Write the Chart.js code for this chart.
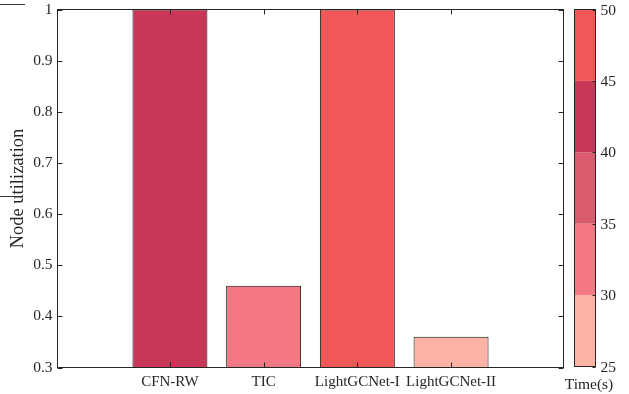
<!DOCTYPE html>
<html>
<head>
<meta charset="utf-8">
<script src="https://cdn.jsdelivr.net/npm/chart.js@4/dist/chart.umd.min.js"></script>
<style>
  html, body { margin: 0; padding: 0; background: #ffffff; }
  #wrap { width: 629px; height: 394px; position: relative; }
</style>
</head>
<body>
<div id="wrap"><canvas id="c" width="629" height="394"></canvas></div>
<script>
// Node utilization of each method, coloured by its run time (s)
const categories = ['CFN-RW', 'TIC', 'LightGCNet-I', 'LightGCNet-II'];
const nodeUtilization = [1.0, 0.46, 1.0, 0.36];
const timeSeconds = [42, 33, 47, 28];

// y-axis ticks
const yTicks = [0.3, 0.4, 0.5, 0.6, 0.7, 0.8, 0.9, 1];

// discrete colour map for the time colourbar
const colorbarTicks = [25, 30, 35, 40, 45, 50];
const colorbarColors = ['#FDB2A6', '#F47884', '#D95B6D', '#C83757', '#F05757'];

const FONT = '"Liberation Serif", "Times New Roman", serif';
const INK = '#262626';

function timeColor(t) {
  for (let i = 0; i < colorbarColors.length; i++) {
    if (t >= colorbarTicks[i] && t < colorbarTicks[i + 1]) return colorbarColors[i];
  }
  return t < colorbarTicks[0] ? colorbarColors[0] : colorbarColors[colorbarColors.length - 1];
}

const points = categories.map((c, i) => ({ x: i + 1, y: nodeUtilization[i] }));
const barColors = timeSeconds.map(timeColor);

// box, inward ticks, colourbar and stray marks
const framePlugin = {
  id: 'frame',
  afterDraw(chart) {
    const { ctx, chartArea: a, scales } = chart;
    const xs = scales.x, ys = scales.y;
    ctx.save();
    ctx.strokeStyle = INK;
    ctx.lineWidth = 1;
    ctx.strokeRect(a.left, a.top, a.right - a.left, a.bottom - a.top);
    const tl = 5;
    ctx.beginPath();
    yTicks.forEach(v => {
      const p = Math.round(ys.getPixelForValue(v)) + 0.5;
      ctx.moveTo(a.left, p); ctx.lineTo(a.left + tl, p);
      ctx.moveTo(a.right, p); ctx.lineTo(a.right - tl, p);
    });
    categories.forEach((c, i) => {
      const p = Math.round(xs.getPixelForValue(i + 1)) + 0.5;
      ctx.moveTo(p, a.bottom); ctx.lineTo(p, a.bottom - tl);
      ctx.moveTo(p, a.top); ctx.lineTo(p, a.top + tl);
    });
    ctx.stroke();

    // colourbar
    const cbL = 574.5, cbR = 595.5, cbT = a.top, cbB = 366.5;
    const lo = colorbarTicks[0], hi = colorbarTicks[colorbarTicks.length - 1];
    const cy = v => cbB - (v - lo) / (hi - lo) * (cbB - cbT);
    colorbarColors.forEach((col, i) => {
      const y1 = cy(colorbarTicks[i + 1]), y0 = cy(colorbarTicks[i]);
      ctx.fillStyle = col;
      ctx.fillRect(cbL, y1, cbR - cbL, y0 - y1);
    });
    ctx.strokeStyle = INK;
    ctx.strokeRect(cbL, cbT, cbR - cbL, cbB - cbT);
    ctx.beginPath();
    colorbarTicks.forEach(v => {
      const p = Math.round(cy(v)) + 0.5;
      ctx.moveTo(cbR, p); ctx.lineTo(cbR - 3, p);
    });
    ctx.stroke();
    ctx.fillStyle = INK;
    ctx.font = '15.5px ' + FONT;
    ctx.textAlign = 'left';
    ctx.textBaseline = 'middle';
    colorbarTicks.forEach(v => ctx.fillText(String(v), 600.5, cy(v) + 1));
    ctx.textAlign = 'center';
    ctx.fillText('Time(s)', 589, 385);

    // stray marks at the left edge
    ctx.strokeStyle = '#333333';
    ctx.beginPath();
    ctx.moveTo(0, 4.5); ctx.lineTo(25, 4.5);
    ctx.moveTo(0, 196.5); ctx.lineTo(21, 196.5);
    ctx.stroke();
    ctx.restore();
  }
};

new Chart(document.getElementById('c'), {
  type: 'bar',
  data: {
    datasets: [{
      data: points,
      backgroundColor: barColors,
      borderColor: '#111111',
      borderWidth: 1,
      borderSkipped: false,
      barPercentage: 1,
      categoryPercentage: 0.8
    }]
  },
  options: {
    responsive: false,
    animation: false,
    events: [],
    layout: { padding: { left: 0, top: 9.5, right: 65.5, bottom: 0 } },
    plugins: { legend: { display: false }, tooltip: { enabled: false } },
    scales: {
      x: {
        type: 'linear',
        offset: false,
        min: -0.2,
        max: 5.2,
        grid: { display: false, drawTicks: false, offset: false },
        border: { display: false },
        afterBuildTicks(scale) {
          scale.ticks = categories.map((c, i) => ({ value: i + 1 }));
        },
        afterFit(scale) {
          scale.height = 26.5;
          scale.paddingLeft = 0;
          scale.paddingRight = 0;
        },
        ticks: {
          autoSkip: false,
          maxRotation: 0,
          padding: 6,
          color: INK,
          font: { family: FONT, size: 15 },
          callback: v => categories[v - 1]
        }
      },
      y: {
        min: 0.3,
        max: 1,
        grid: { display: false, drawTicks: false },
        border: { display: false },
        afterBuildTicks(scale) {
          scale.ticks = yTicks.map(v => ({ value: v }));
        },
        afterFit(scale) {
          scale.width = 57.5;
          scale.paddingTop = 0;
          scale.paddingBottom = 0;
        },
        ticks: {
          padding: 5,
          color: INK,
          font: { family: FONT, size: 15.5 },
          callback: v => String(Math.round(v * 10) / 10)
        },
        title: {
          display: true,
          text: 'Node utilization',
          color: INK,
          font: { family: FONT, size: 18.5 },
          padding: { top: 7, bottom: 0 }
        }
      }
    }
  },
  plugins: [framePlugin]
});
</script>
</body>
</html>
